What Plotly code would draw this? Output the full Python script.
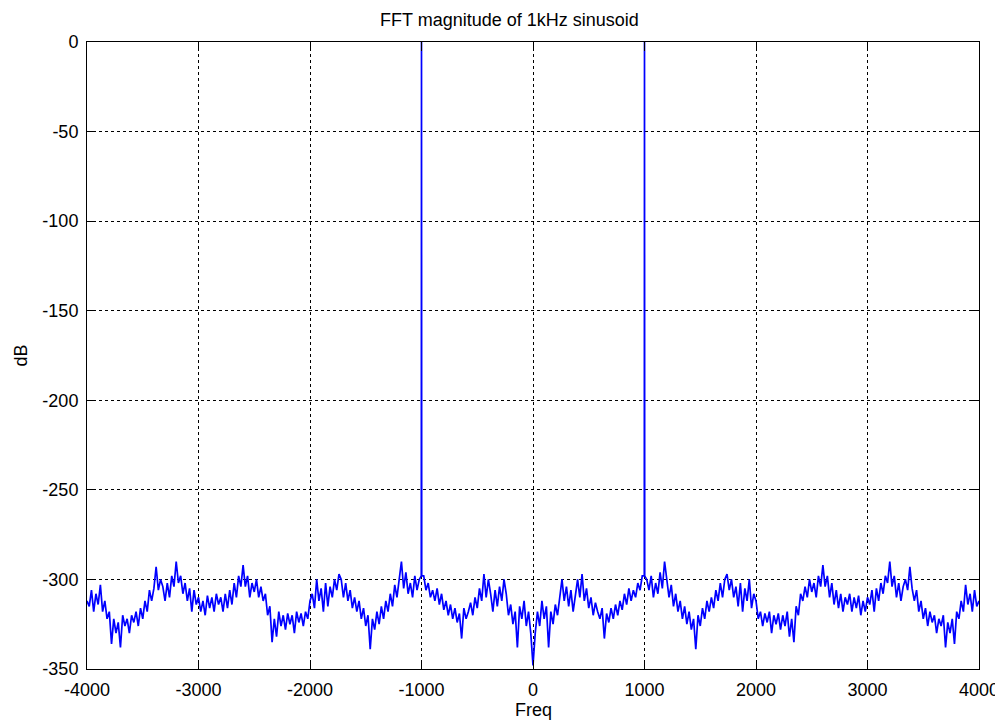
import plotly.graph_objects as go

# Noise floor (dB) for positive frequencies 0..4000 Hz, one value every 20 Hz
pos_db = [
    -348, -330, -318, -326, -312, -322, -315, -338, -318, -325,   # 0-180
    -314, -320, -308, -300, -312, -304, -315, -306, -318, -308,   # 200-380
    -300, -310, -297, -312, -305, -316, -310, -320, -313, -318,   # 400-580
    -322, -316, -333, -319, -324, -316, -322, -314, -320, -312,   # 600-780
    -317, -308, -314, -305, -312, -306, -310, -302, -306, -298,   # 800-980
    -296, -300, -306, -298, -310, -302, -308, -296, -305, -290,   # 1000-1180
    -300, -310, -303, -315, -308, -318, -312, -322, -315, -325,   # 1200-1380
    -318, -328, -322, -339, -320, -326, -316, -322, -312, -318,   # 1400-1580
    -310, -316, -306, -312, -302, -310, -300, -297, -306, -300,   # 1600-1780
    -310, -304, -315, -302, -318, -305, -312, -300, -316, -308,   # 1800-1980
    -312, -322, -318, -326, -319, -324, -318, -330, -320, -325,   # 2000-2180
    -319, -328, -320, -326, -318, -332, -322, -335, -315, -320,   # 2200-2380
    -308, -312, -304, -310, -300, -307, -302, -310, -298, -304,   # 2400-2580
    -292, -304, -298, -310, -302, -314, -306, -316, -308, -318,   # 2600-2780
    -310, -314, -308, -318, -310, -316, -309, -320, -312, -318,   # 2800-2980
    -310, -314, -306, -318, -305, -312, -302, -308, -298, -302,   # 3000-3180
    -290, -304, -298, -310, -302, -312, -304, -300, -306, -293,   # 3200-3380
    -305, -312, -306, -318, -312, -322, -316, -326, -318, -324,   # 3400-3580
    -320, -330, -322, -326, -320, -338, -324, -330, -322, -336,   # 3600-3780
    -318, -322, -312, -318, -303, -314, -308, -318, -306, -315,   # 3800-3980
    -312,                                                         # 4000
]
step_hz = 20
pos_freq = [step_hz * i for i in range(len(pos_db))]

# Tone at 1 kHz: bins around the peak
tone_hz = 1000
spike_offsets = [-2, -1, 0, 1, 2]
spike_db = [-298, -150, 0, -150, -298]

x_ticks = [-4000, -3000, -2000, -1000, 0, 1000, 2000, 3000, 4000]
x_ticktext = ["-4000", "-3000", "-2000", "-1000", "0", "1000", "2000", "3000", "4000"]
y_ticks = [0, -50, -100, -150, -200, -250, -300, -350]
y_ticktext = ["0", "-50", "-100", "-150", "-200", "-250", "-300", "-350"]

# build the two-sided (symmetric) magnitude spectrum
pts = [(f, d) for f, d in zip(pos_freq, pos_db) if f != tone_hz]
pts += [(tone_hz + o, d) for o, d in zip(spike_offsets, spike_db)]
pts += [(-f, d) for f, d in list(pts) if f > 0]
pts.sort()
freq = [p[0] for p in pts]
mag = [p[1] for p in pts]

font = "Liberation Sans, Arial, sans-serif"
fig = go.Figure(go.Scatter(x=freq, y=mag, mode="lines",
                           line=dict(color="#0000FF", width=1.7)))

axis_common = dict(showline=True, linecolor="black", linewidth=1, mirror="ticks",
                   ticks="inside", ticklen=9, tickcolor="black", automargin=False,
                   showgrid=True, gridcolor="black", griddash="dot", gridwidth=1,
                   zeroline=False, tickfont=dict(family=font, size=18, color="black"))
fig.update_xaxes(range=[-4000, 4000], tickvals=x_ticks, ticktext=x_ticktext,
                 ticklabelstandoff=4, **axis_common)
fig.update_yaxes(range=[-350, 0], tickvals=y_ticks, ticktext=y_ticktext,
                 ticklabelstandoff=4, **axis_common)

# page body has an 8px margin, so the figure is 8px smaller and offset
W, H = 995, 718
fig.update_layout(
    width=W, height=H,
    margin=dict(l=79, r=24, t=34, b=57, autoexpand=False),
    paper_bgcolor="white", plot_bgcolor="white",
    showlegend=False,
    font=dict(family=font, color="black"),
    title=dict(text="FFT magnitude of 1kHz sinusoid", x=0.5 + 4 / W, xanchor="center",
               y=1 - 12 / H, yanchor="middle", font=dict(family=font, size=18)),
    annotations=[
        dict(text="Freq", xref="paper", yref="paper", x=0.5, y=0, yshift=-41,
             showarrow=False, yanchor="middle", font=dict(family=font, size=18)),
        dict(text="dB", xref="paper", yref="paper", x=0, y=0.5, xshift=-67,
             showarrow=False, textangle=-90, xanchor="center",
             font=dict(family=font, size=18)),
    ],
)

fig.write_html("out.html")
